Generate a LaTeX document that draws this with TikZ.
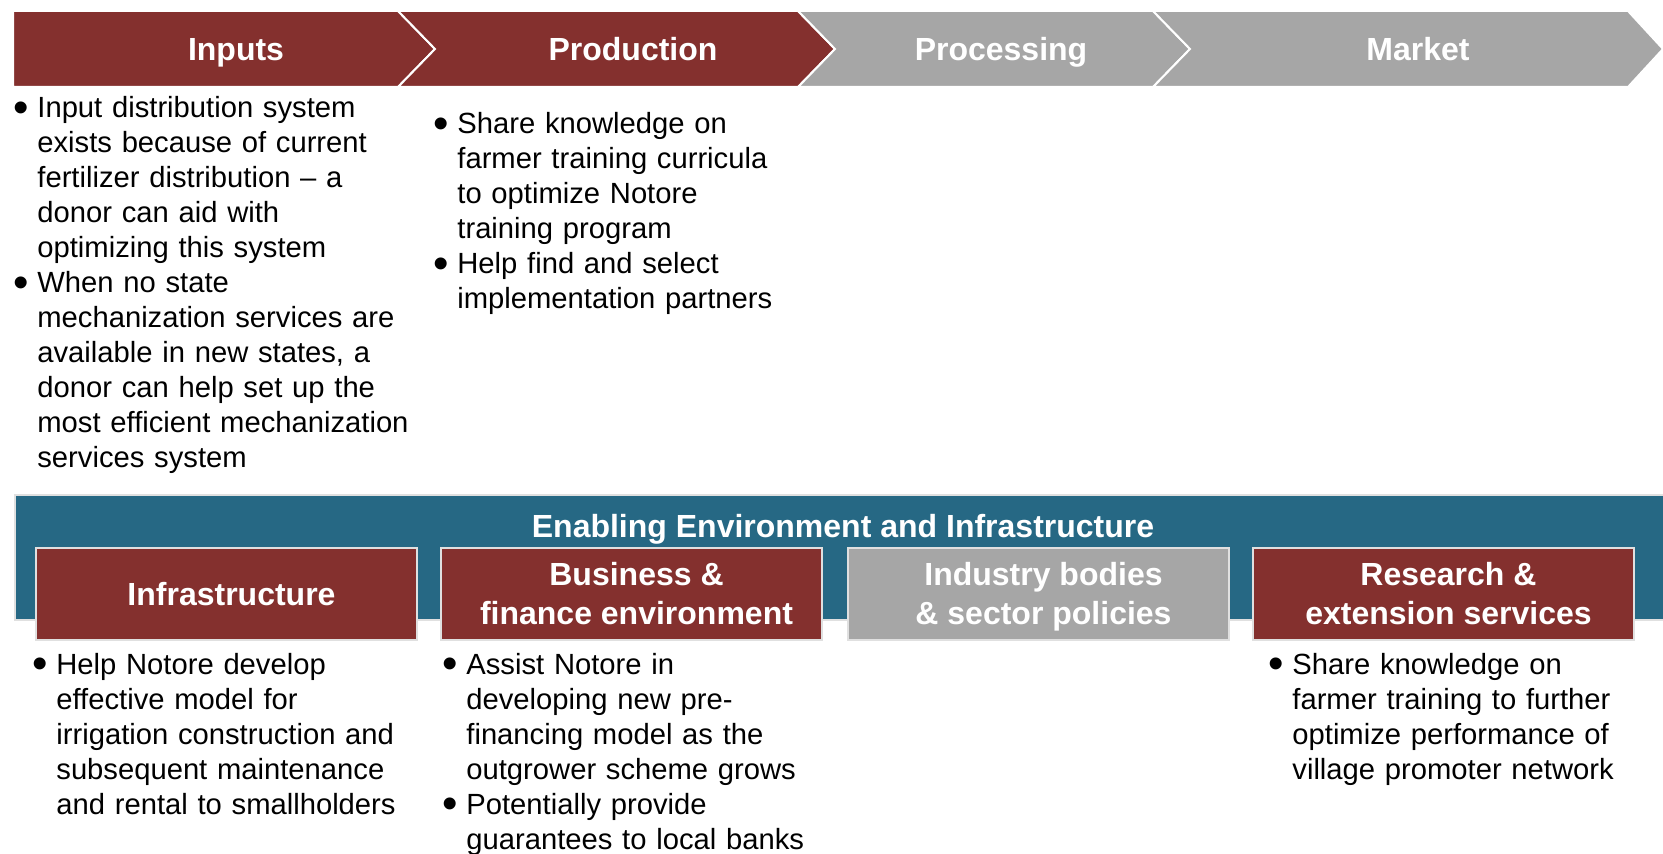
\documentclass[tikz,border=0pt]{standalone}
\usepackage{fontspec}
\setmainfont{Liberation Sans}
\definecolor{dred}{HTML}{84302E}
\definecolor{lgray}{HTML}{A6A6A6}
\definecolor{eblue}{HTML}{266884}
\newcommand{\bu}{\leavevmode\llap{\raisebox{-2.4pt}{\fontsize{22}{22}\selectfont\textbullet}\hspace{4.2pt}}}
\newcommand{\sh}{\hspace*{5pt}}
\tikzset{
  body/.style={anchor=base west, inner sep=0pt, align=left, text width=215pt,
    font=\fontsize{14.6}{17.5}\selectfont},
  hdr/.style={font=\bfseries\fontsize{16}{19.5}\selectfont, text=white,
    text height=11.5pt, text depth=0pt, inner sep=0pt},
  chev/.style={draw=white, line width=1pt},
  subbox/.style={draw=black!12, line width=0.6pt, minimum width=190.5pt,
    minimum height=46pt, inner sep=0pt, align=center, text=white,
    font=\bfseries\fontsize{16}{19.5}\selectfont},
}
\begin{document}
\begin{tikzpicture}[x=0.5pt,y=-0.5pt]
\useasboundingbox (0,0) rectangle (1663,854);
% chevrons
\path[chev, fill=dred] (13,11) -- (398,11) -- (435,49) -- (398,87) -- (13,87) -- cycle;
\path[chev, fill=dred] (398,11) -- (798,11) -- (835,49) -- (798,87) -- (398,87) -- (435,49) -- cycle;
\path[chev, fill=lgray] (798,11) -- (1153,11) -- (1190,49) -- (1153,87) -- (798,87) -- (835,49) -- cycle;
\path[chev, fill=lgray] (1153,11) -- (1628,11) -- (1663,49) -- (1628,87) -- (1153,87) -- (1190,49) -- cycle;
\node[hdr] (inputs) at (236,49) {Inputs};
\node[hdr] (production) at (633,49) {Production};
\node[hdr] (processing) at (1001,49) {Processing};
\node[hdr] (market) at (1418,49) {Market};
% top bullet texts
\node[body] (t1) at (37,118) {\bu Input distribution system\\
exists because of current\\
fertilizer distribution – a\\
donor can aid with\\
optimizing this system\\
\bu When no state\\
mechanization services are\\
available in new states, a\\
donor can help set up the\\
most efficient mechanization\\
services system};
\node[body] (t2) at (457,134) {\bu Share knowledge on\\
farmer training curricula\\
to optimize Notore\\
training program\\
\bu Help find and select\\
implementation partners};
% enabling environment band
\path[fill=eblue, draw=black!12, line width=0.6pt] (15,495) rectangle (1664,620);
\node[hdr] (env) at (843,526) {Enabling Environment and Infrastructure};
\node[subbox, fill=dred] (infra) at (226.5,594) {\sh Infrastructure};
\node[subbox, fill=dred] (biz) at (631.5,594) {\sh Business \&\\\sh finance environment};
\node[subbox, fill=lgray] (ind) at (1038.5,594) {\sh Industry bodies\\\sh\& sector \smash{p}olicies};
\node[subbox, fill=dred] (res) at (1443.5,594) {\sh Research \&\\\sh extension services};
% bottom bullet texts
\node[body] (b1) at (56,674) {\bu Help Notore develop\\
effective model for\\
irrigation construction and\\
subsequent maintenance\\
and rental to smallholders};
\node[body] (b2) at (466,674) {\bu Assist Notore in\\
developing new pre-\\
financing model as the\\
outgrower scheme grows\\
\bu Potentially provide\\
guarantees to local banks};
\node[body] (b4) at (1292,674) {\bu Share knowledge on\\
farmer training to further\\
optimize performance of\\
village promoter network};
\end{tikzpicture}
\end{document}
